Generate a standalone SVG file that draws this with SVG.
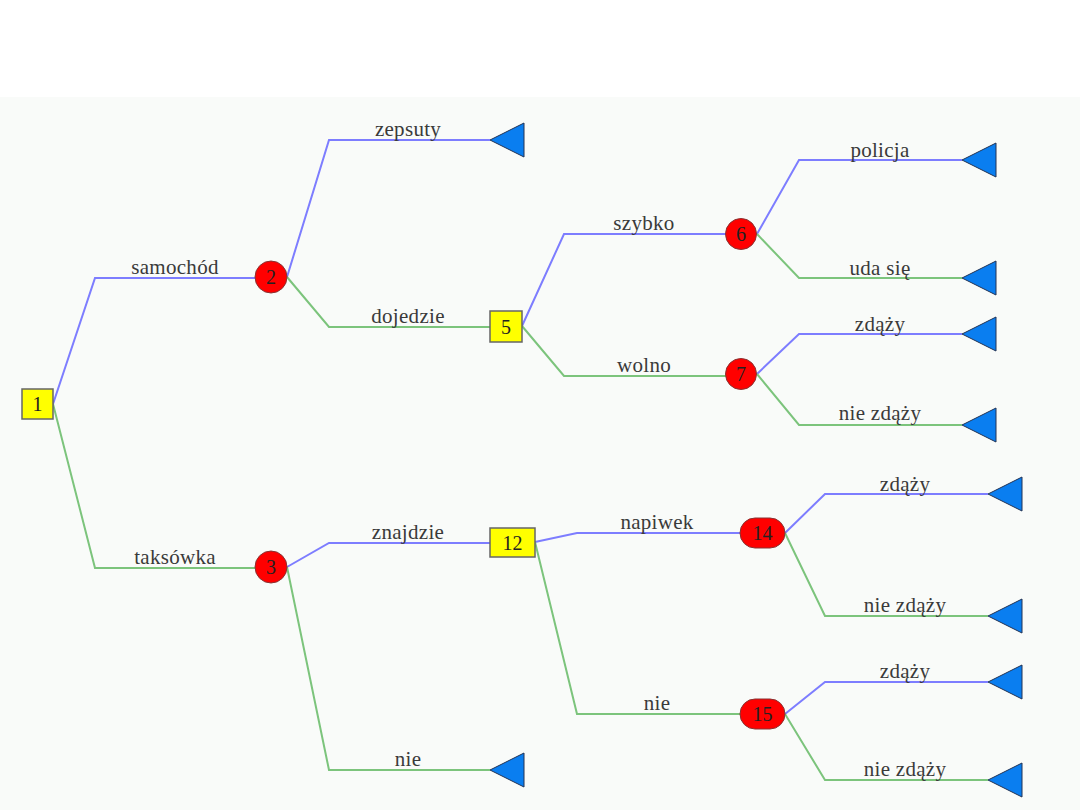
<svg xmlns="http://www.w3.org/2000/svg" width="1080" height="810" viewBox="0 0 1080 810">
<defs>
<style>
.b{fill:none;stroke:#7d7dff;stroke-width:2}
.g{fill:none;stroke:#7cc47c;stroke-width:2}
.lbl{font-family:"Liberation Serif",serif;font-size:21px;letter-spacing:0.3px;fill:#3a3a3a;text-anchor:middle}
.num{font-family:"Liberation Serif",serif;font-size:20px;fill:#222;text-anchor:middle;dominant-baseline:central}
.dec{fill:#ffff00;stroke:#666;stroke-width:1.5}
.ch{fill:#ff0000;stroke:#883333;stroke-width:1}
.end{fill:#0a7ef0;stroke:#223355;stroke-width:1}
</style>
<polygon id="tri" points="0,0 34,-17 34,17"/>
</defs>
<rect x="0" y="0" width="1080" height="810" fill="#ffffff"/>
<rect x="0" y="97" width="1080" height="713" fill="#f9fbf9"/>
<g id="connectors">
<polyline class="b" points="53,404 95,278 256,278"/>
<polyline class="g" points="53,404 95,568 256,568"/>
<polyline class="b" points="287,277 329,140 490,140"/>
<polyline class="g" points="287,277 329,327 490,327"/>
<polyline class="b" points="522,326 564,234 726,234"/>
<polyline class="g" points="522,326 564,376 726,376"/>
<polyline class="b" points="757,234 799,160 962,160"/>
<polyline class="g" points="757,234 799,278 962,278"/>
<polyline class="b" points="757,374 799,334 962,334"/>
<polyline class="g" points="757,374 799,425 962,425"/>
<polyline class="b" points="287,567 329,543 490,543"/>
<polyline class="g" points="287,567 329,770 490,770"/>
<polyline class="b" points="535,542 577,533 740,533"/>
<polyline class="g" points="535,542 577,714 740,714"/>
<polyline class="b" points="785,533 825,494 988,494"/>
<polyline class="g" points="785,533 825,616 988,616"/>
<polyline class="b" points="785,714 825,682 988,682"/>
<polyline class="g" points="785,714 825,780 988,780"/>
</g>
<g id="labels">
<text class="lbl" x="175" y="274">samochód</text>
<text class="lbl" x="175" y="564">taksówka</text>
<text class="lbl" x="408" y="136">zepsuty</text>
<text class="lbl" x="408" y="323">dojedzie</text>
<text class="lbl" x="644" y="230">szybko</text>
<text class="lbl" x="644" y="372">wolno</text>
<text class="lbl" x="880" y="157">policja</text>
<text class="lbl" x="880" y="275">uda się</text>
<text class="lbl" x="880" y="331">zdąży</text>
<text class="lbl" x="880" y="420">nie zdąży</text>
<text class="lbl" x="408" y="539">znajdzie</text>
<text class="lbl" x="408" y="766">nie</text>
<text class="lbl" x="657" y="529">napiwek</text>
<text class="lbl" x="657" y="710">nie</text>
<text class="lbl" x="905" y="491">zdąży</text>
<text class="lbl" x="905" y="612">nie zdąży</text>
<text class="lbl" x="905" y="678">zdąży</text>
<text class="lbl" x="905" y="776">nie zdąży</text>
</g>
<g id="n1"><rect class="dec" x="22" y="389" width="31" height="30"/><text class="num" x="37.5" y="404">1</text></g>
<g id="n2"><circle class="ch" cx="271" cy="277" r="16"/><text class="num" x="271" y="277">2</text></g>
<g id="n3"><circle class="ch" cx="271" cy="567" r="16"/><text class="num" x="271" y="567">3</text></g>
<g id="n4"><use href="#tri" class="end" x="490" y="140"/></g>
<g id="n5"><rect class="dec" x="490" y="311" width="32" height="31"/><text class="num" x="506" y="326.5">5</text></g>
<g id="n6"><circle class="ch" cx="741" cy="234" r="15.5"/><text class="num" x="741" y="234">6</text></g>
<g id="n7"><circle class="ch" cx="741" cy="374" r="15.5"/><text class="num" x="741" y="374">7</text></g>
<g id="n8"><use href="#tri" class="end" x="962" y="160"/></g>
<g id="n9"><use href="#tri" class="end" x="962" y="278"/></g>
<g id="n10"><use href="#tri" class="end" x="962" y="334"/></g>
<g id="n11"><use href="#tri" class="end" x="962" y="425"/></g>
<g id="n12"><rect class="dec" x="490" y="528" width="45" height="29"/><text class="num" x="512.5" y="542.5">12</text></g>
<g id="n13"><use href="#tri" class="end" x="490" y="770"/></g>
<g id="n14"><rect class="ch" x="740" y="518" width="45" height="30" rx="15" ry="15"/><text class="num" x="762.5" y="533">14</text></g>
<g id="n15"><rect class="ch" x="740" y="699" width="45" height="30" rx="15" ry="15"/><text class="num" x="762.5" y="714">15</text></g>
<g id="n16"><use href="#tri" class="end" x="988" y="494"/></g>
<g id="n17"><use href="#tri" class="end" x="988" y="616"/></g>
<g id="n18"><use href="#tri" class="end" x="988" y="682"/></g>
<g id="n19"><use href="#tri" class="end" x="988" y="780"/></g>
</svg>
